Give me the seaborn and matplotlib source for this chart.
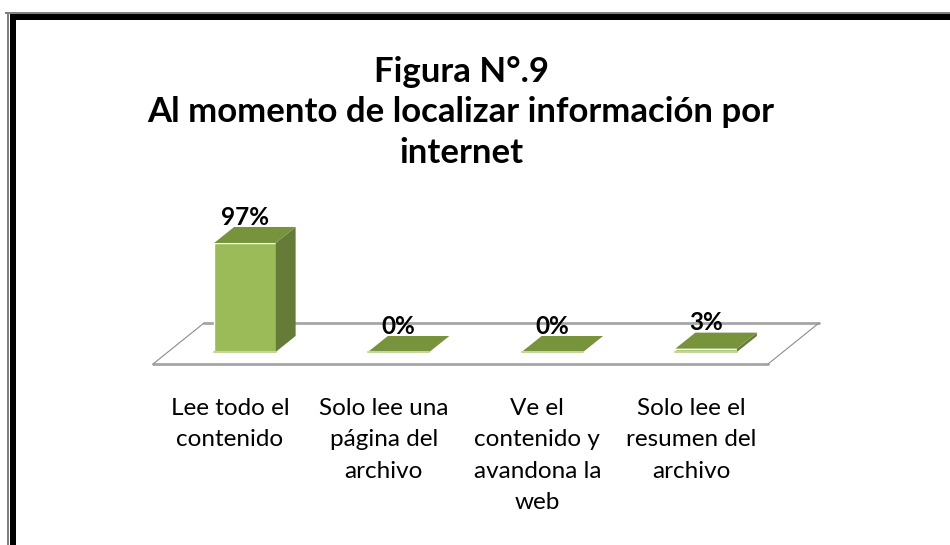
import matplotlib
matplotlib.use("Agg")
import numpy as np
import pandas as pd
import matplotlib.pyplot as plt
import seaborn as sns
from matplotlib.patches import Polygon, Rectangle
from matplotlib.lines import Line2D

# data
categories = ["Lee todo el\ncontenido",
              "Solo lee una\npágina del\narchivo",
              "Ve el\ncontenido y\navandona la\nweb",
              "Solo lee el\nresumen del\narchivo"]
values = [97, 0, 0, 3]
value_labels = ["97%", "0%", "0%", "3%"]
title_lines = ["Figura N°.9", "Al momento de localizar información por", "internet"]

sns.set_theme(style="white")
plt.rcParams["font.family"] = ["Lato", "DejaVu Sans"]

W, H = 950, 545
fig = plt.figure(figsize=(W / 100, H / 100), dpi=100)
fig.patch.set_facecolor("white")

# axes box = front plane of the bars (pixels measured on the picture)
ax_left, ax_width = 168, 615
ax_base, ax_height = 352, 112.4
ax = fig.add_axes([ax_left / W, 1 - ax_base / H, ax_width / W, ax_height / H])
ax.set_facecolor("none")

df = pd.DataFrame({"cat": categories, "val": values})
sns.barplot(data=df, x="cat", y="val", color="#9BBB59", saturation=1,
            width=0.40, ax=ax, zorder=3)
bars = list(ax.patches)
ax.set_xlim(-0.5, 3.5)
ax.set_ylim(0, 100)

px_x = ax_width / 4.0        # pixels per x unit
px_y = ax_height / 100.0     # pixels per y unit

def off(dx_px, dy_px):
    return dx_px / px_x, dy_px / px_y

# floor (no walls in the original, only a floor)
fx0, fy0 = off(-15, -12)
bx0, by0 = off(36, 29)
x_lo, x_hi = ax.get_xlim()
floor = Polygon([(x_lo + fx0, fy0), (x_hi + fx0, fy0), (x_hi + bx0, by0), (x_lo + bx0, by0)],
                closed=True, facecolor="white", edgecolor="none", clip_on=False, zorder=1)
ax.add_patch(floor)
for (xa, ya), (xb, yb), lw, col in [
        ((x_lo + fx0, fy0), (x_hi + fx0, fy0), 2.0, "#a6a6a6"),
        ((x_lo + bx0, by0), (x_hi + bx0, by0), 2.0, "#a6a6a6"),
        ((x_lo + fx0, fy0), (x_lo + bx0, by0), 0.8, "#8c8c8c"),
        ((x_hi + fx0, fy0), (x_hi + bx0, by0), 0.8, "#8c8c8c")]:
    ax.add_line(Line2D([xa, xb], [ya, yb], lw=lw, color=col, clip_on=False, zorder=2))

# 3d sides and tops of the bars
ddx, ddy = off(20, 16)
for p, lab in zip(bars, value_labels):
    x0, w, h = p.get_x(), p.get_width(), p.get_height()
    p.set_clip_on(False)
    side = Polygon([(x0 + w, 0), (x0 + w + ddx, ddy), (x0 + w + ddx, h + ddy), (x0 + w, h)],
                   closed=True, facecolor="#667b37", edgecolor="none", clip_on=False, zorder=3)
    top = Polygon([(x0, h), (x0 + w, h), (x0 + w + ddx, h + ddy), (x0 + ddx, h + ddy)],
                  closed=True, facecolor="#77933c", edgecolor="none", clip_on=False, zorder=4)
    ax.add_patch(side)
    ax.add_patch(top)
    ax.add_line(Line2D([x0, x0 + w], [0, 0], lw=1.5, color="#c4d79b",
                       clip_on=False, zorder=5))
    ax.annotate(lab, (x0 + w / 2, h), xytext=(0, 18.5), textcoords="offset points",
                ha="center", va="center", fontsize=17.5, fontweight="bold",
                color="black", zorder=6, annotation_clip=False)

# category labels sit under the front edge of the floor
ax.set_xticks(np.arange(len(categories)) + fx0, categories)
ax.tick_params(axis="x", length=0, pad=33, labelsize=17.5, colors="black")
for t in ax.get_xticklabels():
    t.set_linespacing(1.62)
ax.set_yticks([])
ax.set_xlabel("")
ax.set_ylabel("")
sns.despine(ax=ax, left=True, bottom=True)

# title lines
for txt, yb in zip(title_lines, [82, 122, 163]):
    fig.text(461 / W, 1 - yb / H, txt, ha="center", va="baseline",
             fontsize=25, fontweight="bold", color="black")

# frame (top and left only)
fig.add_artist(Rectangle((5 / W, 1 - 14 / H), 1, 2 / H, transform=fig.transFigure,
                         facecolor="#808080", edgecolor="none"))
fig.add_artist(Rectangle((10 / W, 1 - 20 / H), 1, 6 / H, transform=fig.transFigure,
                         facecolor="black", edgecolor="none"))
fig.add_artist(Rectangle((7 / W, 0), 2 / W, 1 - 12 / H, transform=fig.transFigure,
                         facecolor="#808080", edgecolor="none"))
fig.add_artist(Rectangle((10 / W, 0), 6 / W, 1 - 14 / H, transform=fig.transFigure,
                         facecolor="black", edgecolor="none"))

fig.savefig("out.png", dpi=100)
